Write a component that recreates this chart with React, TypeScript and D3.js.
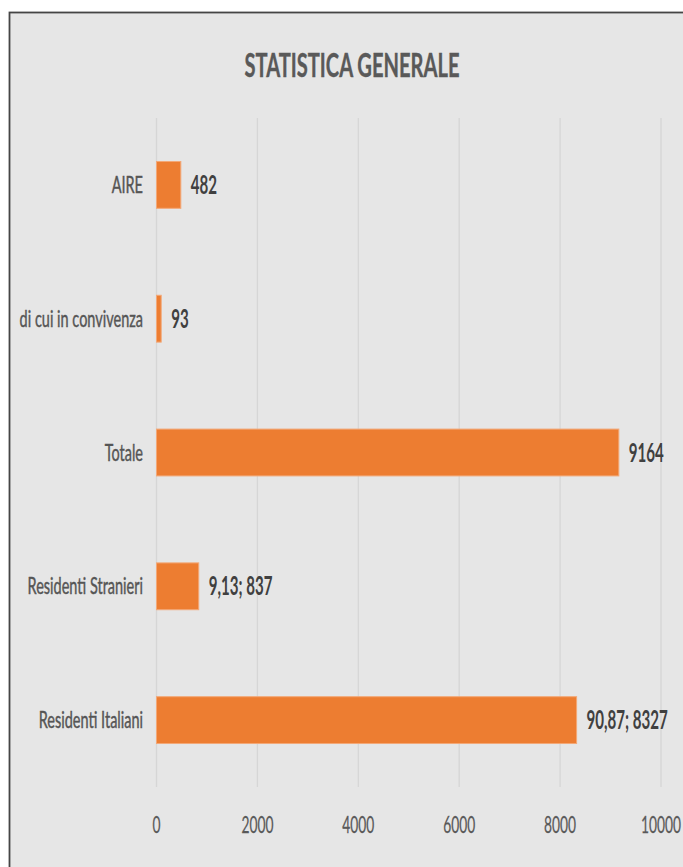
import * as d3 from 'd3';

// chart values, top to bottom as drawn
const categories = ['AIRE', 'di cui in convivenza', 'Totale', 'Residenti Stranieri', 'Residenti Italiani'];
const values = [482, 93, 9164, 837, 8327];
const valueLabels = ['482', '93', '9164', '9,13; 837', '90,87; 8327'];
const ticks = [0, 2000, 4000, 6000, 8000, 10000];
const title = 'STATISTICA GENERALE';

const W = 683;
const H = 867;
const FONT = 'Lato, "Open Sans", "DejaVu Sans", sans-serif';
// the picture is squeezed horizontally, so text is narrowed
const SX = 0.6;

export default function App() {
  const x = d3.scaleLinear().domain([0, 10000]).range([156.5, 661]);
  const y = d3.scaleBand<string>().domain(categories).range([118, 787]).paddingInner(0.65).paddingOuter(0.325);

  const bars = categories.map((c, i) => ({ c, v: values[i], label: valueLabels[i] }));

  return (
    <div style={{ position: 'absolute', left: 0, top: 0 }}>
      <svg width={W} height={H} style={{ display: 'block', background: '#fff' }}>
        {/* chart area with its frame */}
        <rect x={9.5} y={12.5} width={W + 20} height={H + 20} fill="#e6e6e6" stroke="#454545" strokeWidth={1.8} />

        <text
          transform={`translate(${352},${77}) scale(${SX + 0.01},1)`}
          textAnchor="middle"
          fontFamily={FONT}
          fontWeight="bold"
          fontSize={33}
          fill="#595959"
          stroke="#595959"
          strokeWidth={0.4}
        >
          {title}
        </text>

        {/* vertical gridlines */}
        <g>
          {ticks.map((t) => (
            <line key={t} x1={x(t)} x2={x(t)} y1={118} y2={787} stroke="#d6d6d6" strokeWidth={1.3} />
          ))}
        </g>

        {/* bars */}
        <g>
          {bars.map((d) => (
            <rect
              key={d.c}
              x={x(0)}
              y={y(d.c)}
              width={x(d.v) - x(0)}
              height={y.bandwidth()}
              fill="#ED7D31"
              stroke="#f3a877"
              strokeWidth={1}
            />
          ))}
        </g>

        {/* category labels */}
        <g fontFamily={FONT} fontSize={23} fill="#555" stroke="#555" strokeWidth={0.45} textAnchor="end">
          {bars.map((d) => (
            <text key={d.c} transform={`translate(${143},${(y(d.c) ?? 0) + y.bandwidth() / 2 + 8}) scale(0.63,1)`}>
              {d.c}
            </text>
          ))}
        </g>

        {/* value labels */}
        <g fontFamily={FONT} fontSize={26} fontWeight="bold" fill="#404040">
          {bars.map((d) => (
            <text key={d.c} transform={`translate(${x(d.v) + 10},${(y(d.c) ?? 0) + y.bandwidth() / 2 + 9}) scale(0.58,1)`}>
              {d.label}
            </text>
          ))}
        </g>

        {/* axis tick labels */}
        <g fontFamily={FONT} fontSize={23} fill="#595959" stroke="#595959" strokeWidth={0.25} textAnchor="middle">
          {ticks.map((t) => (
            <text key={t} transform={`translate(${x(t)},${833}) scale(${SX},1)`}>
              {t}
            </text>
          ))}
        </g>
      </svg>
    </div>
  );
}
